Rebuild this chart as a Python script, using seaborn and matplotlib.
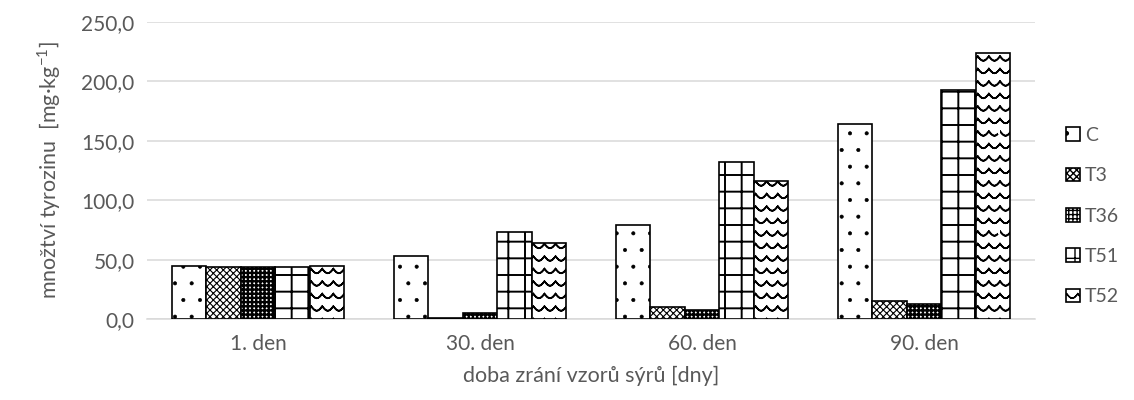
import warnings
import numpy as np
import pandas as pd
import seaborn as sns
import matplotlib
matplotlib.use("Agg")
import matplotlib.pyplot as plt
from matplotlib import hatch as mhatch
from matplotlib.path import Path
from matplotlib.patches import Patch
from matplotlib.ticker import FuncFormatter

warnings.filterwarnings("ignore")

# data
days = ["1. den", "30. den", "60. den", "90. den"]
samples = ["C", "T3", "T36", "T51", "T52"]
C = [44.5, 53.0, 79.0, 164.5]
T3 = [43.5, 0.5, 10.0, 15.5]
T36 = [43.5, 5.0, 7.5, 12.5]
T51 = [43.5, 73.5, 132.0, 192.5]
T52 = [44.5, 64.0, 116.0, 224.0]

hatches = {"C": ".", "T3": "xxxxx", "T36": "++++", "T51": "+", "T52": "~"}
hatch_lw = {"C": 0.45, "T3": 0.8, "T36": 1.7, "T51": 1.4, "T52": 1.2}


# wavy hatch (not built into matplotlib)
class WaveHatch(mhatch.HatchPatternBase):
    def __init__(self, hatch, density):
        self.rows = 8 * hatch.count("~")
        self.pts = 73
        self.num_vertices = self.rows * self.pts * 2

    def set_vertices_and_codes(self, vertices, codes):
        xs = np.linspace(0, 1, self.pts)
        n = self.pts
        for i in range(self.rows):
            ys = (i + 0.5) / self.rows - 0.045 * np.abs(np.sin(np.pi * 9 * xs))
            seg = np.column_stack([np.r_[xs, xs[::-1]], np.r_[ys, ys[::-1]]])
            vertices[i * 2 * n:(i + 1) * 2 * n] = seg
            codes[i * 2 * n:(i + 1) * 2 * n] = Path.LINETO
            codes[i * 2 * n] = Path.MOVETO


mhatch._hatch_types.append(WaveHatch)

df = pd.DataFrame({"den": days, "C": C, "T3": T3, "T36": T36, "T51": T51, "T52": T52})
df = df.melt(id_vars="den", var_name="vzorek", value_name="tyrozin")

sns.set_theme(style="white")
plt.rcParams["font.family"] = ["Lato", "DejaVu Sans"]
plt.rcParams["mathtext.fontset"] = "custom"
plt.rcParams["mathtext.rm"] = "Lato"
plt.rcParams["hatch.color"] = "black"
grey = "#595959"

fig = plt.figure(figsize=(11.34, 4.0), dpi=100)
ax = fig.add_axes([0.1296, 0.2025, 0.7831, 0.7425])

sns.barplot(data=df, x="den", y="tyrozin", hue="vzorek", order=days,
            hue_order=samples, color="white", saturation=1, width=0.775,
            edgecolor="black", linewidth=1.2, legend=False, ax=ax, zorder=3)

for cont, s in zip(ax.containers, samples):
    for bar in cont:
        bar.set_facecolor("white")
        bar.set_hatch(hatches[s])
        if hasattr(bar, "set_hatch_linewidth"):
            bar.set_hatch_linewidth(hatch_lw[s])

ax.set_ylim(0, 250)
ax.set_yticks([0, 50, 100, 150, 200, 250])
ax.yaxis.set_major_formatter(FuncFormatter(lambda v, p: f"{v:.1f}".replace(".", ",")))
ax.grid(axis="y", color="#d9d9d9", linewidth=1.1, zorder=0)
ax.set_axisbelow(True)
for side in ["top", "right", "left"]:
    ax.spines[side].set_visible(False)
ax.spines["bottom"].set_color("#d9d9d9")
ax.spines["bottom"].set_linewidth(1.1)
ax.tick_params(axis="both", length=0, labelsize=15, labelcolor=grey)
ax.tick_params(axis="y", pad=9)
ax.tick_params(axis="x", pad=11)

ax.set_ylabel(r"množtví tyrozinu  [mg·kg$^{\mathregular{-1}}$]", fontsize=15.5,
              color=grey, labelpad=13)
ax.set_xlabel("doba zrání vzorů sýrů [dny]", fontsize=15.5, color=grey, labelpad=8)

handles = []
for s in samples:
    p = Patch(facecolor="white", edgecolor="black", hatch=hatches[s], linewidth=1.2, label=s)
    handles.append(p)
fig.legend(handles=handles, loc="center left", bbox_to_anchor=(0.93, 0.46),
           frameon=False, fontsize=14, labelcolor=grey, handlelength=0.7,
           handleheight=0.7, handletextpad=0.25, labelspacing=1.2,
           borderaxespad=0.2)

fig.savefig("out.png", dpi=100)
